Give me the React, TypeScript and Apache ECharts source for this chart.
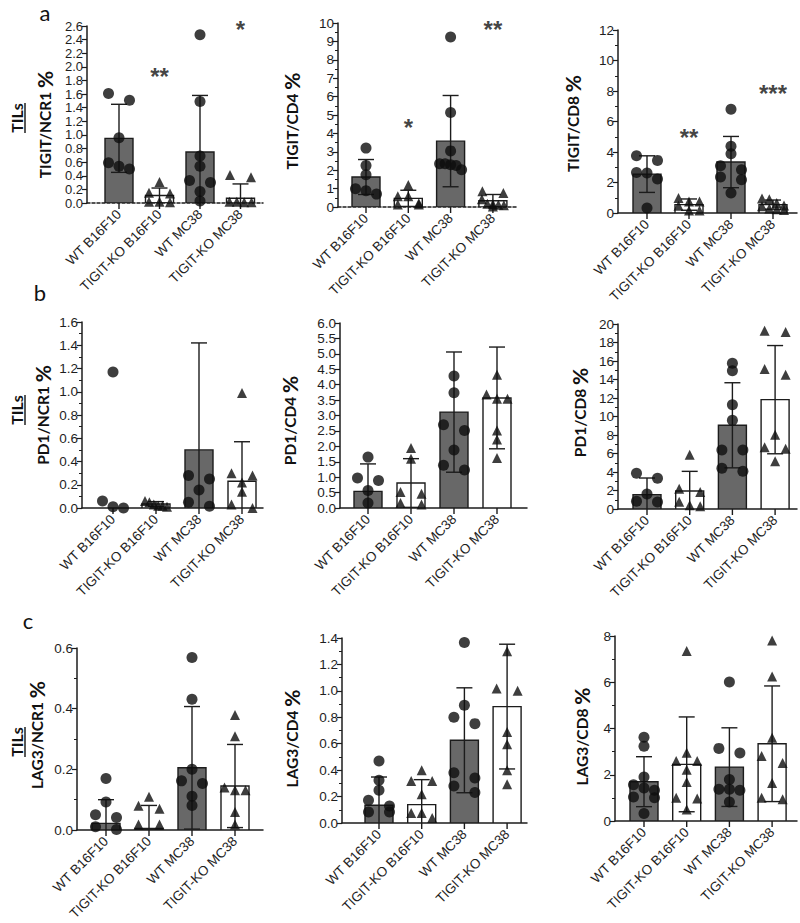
import React, { useEffect, useRef } from "react";
import * as echarts from "echarts";

const categories = ["WT B16F10", "TIGIT-KO B16F10", "WT MC38", "TIGIT-KO MC38"];

// ---- a: TIGIT ----
const tigitNcr1Mean = [0.95, 0.11, 0.75, 0.07];
const tigitNcr1Sd = [0.5, 0.11, 0.83, 0.21];
const tigitNcr1Points = [
  [1.61, 1.51, 0.96, 0.59, 0.54, 0.5],
  [0.31, 0.15, 0.14, 0.01, 0.02, 0.02],
  [2.47, 1.49, 0.69, 0.54, 0.33, 0.3, 0.17, 0.03],
  [0.41, 0.38, 0.02, 0.01, 0.02, 0.01],
];
const tigitNcr1Sig = [
  { cat: 1, y: 1.94, text: "**" },
  { cat: 3, y: 2.64, text: "*" },
];

const tigitCd4Mean = [1.63, 0.47, 3.58, 0.34];
const tigitCd4Sd = [0.95, 0.44, 2.48, 0.34];
const tigitCd4Points = [
  [3.2, 2.26, 1.75, 0.99, 0.88, 0.7],
  [1.2, 0.58, 0.58, 0.2, 0.13, 0.13],
  [9.24, 5.13, 3.05, 2.35, 2.35, 2.3, 2.25, 2.02],
  [0.85, 0.76, 0.42, 0.18, 0.15, 0.12, 0.1, 0.03],
];
const tigitCd4Sig = [
  { cat: 1, y: 4.64, text: "*" },
  { cat: 3, y: 9.96, text: "**" },
];

const tigitCd8Mean = [2.55, 0.55, 3.34, 0.55];
const tigitCd8Sd = [1.2, 0.37, 1.68, 0.3];
const tigitCd8Points = [
  [3.76, 3.45, 2.66, 2.62, 2.23, 0.33],
  [0.98, 0.76, 0.76, 0.48, 0.17, 0.17],
  [6.81, 4.37, 3.89, 3.1, 2.84, 2.36, 2.18, 1.31],
  [0.95, 0.9, 0.65, 0.5, 0.45, 0.3, 0.25, 0.2],
];
const tigitCd8Sig = [
  { cat: 1, y: 5.35, text: "**" },
  { cat: 3, y: 8.25, text: "***" },
];

// ---- b: PD1 ----
const pd1Ncr1Mean = [0, 0.035, 0.5, 0.23];
const pd1Ncr1Sd = [0, 0.02, 0.92, 0.34];
const pd1Ncr1Points = [
  [1.17, 0.06, 0.0, 0.01],
  [0.06, 0.05, 0.03, 0.02, 0.02, 0.01],
  [0.28, 0.25, 0.155, 0.05, 0.015],
  [0.99, 0.3, 0.28, 0.22, 0.14, 0.03, 0.0],
];

const pd1Cd4Mean = [0.54, 0.81, 3.11, 3.57];
const pd1Cd4Sd = [0.89, 0.79, 1.95, 1.65];
const pd1Cd4Points = [
  [1.65, 0.97, 0.89, 0.57, 0.16],
  [1.95, 1.6, 0.52, 0.46, 0.16, 0.11],
  [4.28, 3.74, 2.7, 2.51, 1.88, 1.39, 1.23],
  [4.32, 3.68, 3.54, 3.54, 2.51, 2.22, 1.62],
];

const pd1Cd8Mean = [1.55, 1.95, 9.05, 11.82];
const pd1Cd8Sd = [1.8, 2.12, 4.6, 5.85];
const pd1Cd8Points = [
  [3.86, 3.32, 1.62, 0.83, 0.76],
  [5.87, 2.2, 1.84, 0.79, 0.4, 0.29],
  [15.75, 14.95, 11.28, 9.59, 6.38, 6.38, 4.4, 4.07],
  [19.28, 19.14, 15.14, 14.52, 8.04, 6.67, 6.52, 5.15],
];

// ---- c: LAG3 ----
const lag3Ncr1Mean = [0.022, 0.005, 0.205, 0.145];
const lag3Ncr1Sd = [0.078, 0.076, 0.202, 0.137];
const lag3Ncr1Points = [
  [0.17, 0.092, 0.05, 0.041, 0.011, 0.002],
  [0.11, 0.08, 0.07, 0.018, 0.018],
  [0.569, 0.431, 0.2, 0.162, 0.153, 0.111, 0.081],
  [0.379, 0.309, 0.14, 0.131, 0.131, 0.059, 0.018],
];

const lag3Cd4Mean = [0.134, 0.139, 0.626, 0.881];
const lag3Cd4Sd = [0.214, 0.189, 0.397, 0.472];
const lag3Cd4Points = [
  [0.47, 0.323, 0.247, 0.172, 0.129, 0.083, 0.083],
  [0.4, 0.318, 0.318, 0.217, 0.076, 0.076, 0.038],
  [1.366, 0.891, 0.8, 0.752, 0.381, 0.341, 0.28, 0.23],
  [1.3, 1.018, 1.0, 0.689, 0.596, 0.4, 0.293],
];

const lag3Cd8Mean = [1.7, 2.45, 2.33, 3.34];
const lag3Cd8Sd = [1.08, 2.05, 1.7, 2.5];
const lag3Cd8Points = [
  [3.62, 3.23, 1.9, 1.57, 1.43, 1.33, 1.04, 1.01, 0.32],
  [7.35, 2.95, 2.59, 2.59, 2.22, 1.69, 1.01, 0.97, 0.5],
  [6.01, 3.14, 2.94, 1.79, 1.37, 1.37, 1.33, 0.82],
  [7.81, 6.25, 3.6, 2.81, 2.51, 1.64, 1.01, 0.94],
];

// y-axis tick settings per panel
const yMaxes = [2.6, 10, 12, 1.6, 6, 20, 0.6, 1.4, 8];
const yIntervals = [0.2, 1, 2, 0.2, 0.5, 2, 0.2, 0.2, 2];
const yDecimals = [1, 0, 0, 1, 1, 0, 1, 1, 0];
const yMinor = [false, true, true, true, false, true, true, true, true];
const yTitles = [
  "TIGIT/NCR1", "TIGIT/CD4", "TIGIT/CD8",
  "PD1/NCR1", "PD1/CD4", "PD1/CD8",
  "LAG3/NCR1", "LAG3/CD4", "LAG3/CD8",
];
const rowLetters = ["a", "b", "c"];

const panelData = [
  { mean: tigitNcr1Mean, sd: tigitNcr1Sd, points: tigitNcr1Points, sig: tigitNcr1Sig },
  { mean: tigitCd4Mean, sd: tigitCd4Sd, points: tigitCd4Points, sig: tigitCd4Sig },
  { mean: tigitCd8Mean, sd: tigitCd8Sd, points: tigitCd8Points, sig: tigitCd8Sig },
  { mean: pd1Ncr1Mean, sd: pd1Ncr1Sd, points: pd1Ncr1Points, sig: [] as any[] },
  { mean: pd1Cd4Mean, sd: pd1Cd4Sd, points: pd1Cd4Points, sig: [] as any[] },
  { mean: pd1Cd8Mean, sd: pd1Cd8Sd, points: pd1Cd8Points, sig: [] as any[] },
  { mean: lag3Ncr1Mean, sd: lag3Ncr1Sd, points: lag3Ncr1Points, sig: [] as any[] },
  { mean: lag3Cd4Mean, sd: lag3Cd4Sd, points: lag3Cd4Points, sig: [] as any[] },
  { mean: lag3Cd8Mean, sd: lag3Cd8Sd, points: lag3Cd8Points, sig: [] as any[] },
];

// ---- layout (pixels) ----
const layouts = [
  { left: 87, first: 119, step: 40.5, end: 263, top: 26, zero: 203, nameGap: 32, shift: 10, dashed: true, tickFont: 13 },
  { left: 338, first: 366, step: 42.3, end: 518, top: 23, zero: 207, nameGap: 36, shift: 6, dashed: true, tickFont: 13.5 },
  { left: 618, first: 647, step: 42, end: 797, top: 30, zero: 213, nameGap: 35, shift: 2, dashed: false, tickFont: 13.5 },
  { left: 82, first: 113, step: 43, end: 263, top: 322, zero: 508, nameGap: 29, shift: 0, dashed: false, tickFont: 13.5 },
  { left: 340, first: 368, step: 43, end: 527, top: 323, zero: 508, nameGap: 40, shift: 5, dashed: false, tickFont: 13.5 },
  { left: 618, first: 647, step: 42.7, end: 797, top: 324, zero: 509, nameGap: 28, shift: -4, dashed: false, tickFont: 13.5 },
  { left: 77, first: 106, step: 43, end: 263, top: 648, zero: 833, nameGap: 30, shift: -4, dashed: false, tickFont: 13.5 },
  { left: 342, first: 379, step: 42.7, end: 527, top: 638, zero: 823, nameGap: 40, shift: 8, dashed: false, tickFont: 13.5 },
  { left: 615, first: 644, step: 42.7, end: 797, top: 636, zero: 821, nameGap: 23, shift: 8, dashed: false, tickFont: 13.5 },
];
const letterPos = [
  { x: 45, y: 12 },
  { x: 40, y: 292 },
  { x: 28, y: 620 },
];
const tilsPos = [
  { x: 16, y: 118 },
  { x: 16, y: 410 },
  { x: 16, y: 742 },
];

const FONT = '"Liberation Sans", Arial, sans-serif';
const TITLE_FONT = 'Lato, "Liberation Sans", sans-serif';
const INK = "#1c1c1c";
const GRAY = "#686868";
const BAR_HALF = 14;
const CAP_HALF = 8;
const DOT = 11;
const TRI = 10;
const ROW_THRESH = 7;
const MAX_HALF = 11;

// GraphPad-like horizontal spreading of points with overlapping y positions
function spread(values: number[], pxPerUnit: number): number[] {
  const order = values.map((_, i) => i).sort((a, b) => values[b] - values[a]);
  const offs = new Array(values.length).fill(0);
  let i = 0;
  while (i < order.length) {
    const row = [order[i]];
    let j = i + 1;
    while (j < order.length && (values[row[0]] - values[order[j]]) * pxPerUnit < ROW_THRESH) {
      row.push(order[j]);
      j++;
    }
    const n = row.length;
    if (n === 2) {
      offs[row[0]] = -10.5;
      offs[row[1]] = 10.5;
    } else if (n > 2) {
      let step = 10.5;
      if (((n - 1) / 2) * step > MAX_HALF) step = (2 * MAX_HALF) / (n - 1);
      row.forEach((idx, k) => {
        offs[idx] = (k - (n - 1) / 2) * step;
      });
    }
    i = j;
  }
  return offs;
}

function buildOption() {
  const grid: any[] = [];
  const xAxis: any[] = [];
  const yAxis: any[] = [];
  const series: any[] = [];

  layouts.forEach((L, p) => {
    const d = panelData[p];
    const yMax = yMaxes[p];
    const pxPerUnit = (L.zero - L.top) / yMax;
    const lastCenter = L.first + 3 * L.step;
    grid.push({ left: L.left, top: L.top, width: L.end - L.left, height: L.zero - L.top, containLabel: false });
    xAxis.push({
      gridIndex: p,
      type: "value",
      min: -(L.first - L.left) / L.step,
      max: 3 + (L.end - lastCenter) / L.step,
      splitNumber: 4,
      axisLine: { show: true, onZero: true, lineStyle: { color: INK, width: 1.5, type: L.dashed ? [3, 2] : "solid" } },
      axisTick: { show: false },
      splitLine: { show: false },
      axisLabel: {
        rotate: 45,
        margin: 9,
        fontSize: 13.5,
        fontFamily: FONT,
        color: "#1e1e1e",
        showMinLabel: true,
        showMaxLabel: true,
        formatter: (v: number) => {
          const r = Math.round(v);
          return Math.abs(v - r) < 1e-6 && r >= 0 && r <= 3 ? categories[r] : "";
        },
      },
    });
    yAxis.push({
      gridIndex: p,
      type: "value",
      min: 0,
      max: yMax,
      interval: yIntervals[p],
      axisLine: { show: true, onZero: false, lineStyle: { color: INK, width: 1.5 } },
      axisTick: { show: true, length: 5, lineStyle: { color: INK, width: 1.2 } },
      minorTick: { show: yMinor[p], splitNumber: 2, length: 3, lineStyle: { color: INK, width: 1 } },
      splitLine: { show: false },
      minorSplitLine: { show: false },
      axisLabel: {
        margin: 4,
        fontSize: L.tickFont,
        fontFamily: FONT,
        color: "#1e1e1e",
        showMinLabel: true,
        showMaxLabel: true,
        hideOverlap: false,
        formatter: (v: number) => v.toFixed(yDecimals[p]),
      },
      name: `{t|${yTitles[p]}} {p|%}`,
      nameLocation: "middle",
      nameRotate: 90,
      nameGap: L.nameGap,
      nameTextStyle: {
        color: "#111",
        fontFamily: TITLE_FONT,
        fontWeight: "bold",
        fontSize: 15.5,
        padding: L.shift >= 0 ? [0, 2 * L.shift, 0, 0] : [0, 0, 0, -2 * L.shift],
        rich: {
          t: { fontSize: 15.5, fontWeight: "bold", fontFamily: TITLE_FONT, color: "#111" },
          p: { fontSize: 21, fontWeight: "bold", fontFamily: TITLE_FONT, color: "#111" },
        },
      },
    });

    // category ticks below the x axis
    series.push({
      type: "custom",
      xAxisIndex: p,
      yAxisIndex: p,
      clip: false,
      silent: true,
      z: 1,
      data: categories.map((_, i) => [i, 0]),
      renderItem: (_params: any, api: any) => {
        const pt = api.coord([api.value(0), 0]);
        return {
          type: "line",
          shape: { x1: pt[0], y1: pt[1], x2: pt[0], y2: pt[1] + 6 },
          style: { stroke: INK, lineWidth: 1.4 },
        };
      },
    });

    // bars + SD error bars
    series.push({
      type: "custom",
      xAxisIndex: p,
      yAxisIndex: p,
      clip: true,
      silent: true,
      z: 2,
      data: d.mean.map((m, i) => [i, m, d.sd[i]]),
      renderItem: (_params: any, api: any) => {
        const i = api.value(0) as number;
        const m = api.value(1) as number;
        const sd = api.value(2) as number;
        const base = api.coord([i, 0]);
        const top = api.coord([i, m]);
        const children: any[] = [];
        if (m > 0) {
          children.push({
            type: "rect",
            shape: { x: base[0] - BAR_HALF, y: top[1], width: BAR_HALF * 2, height: base[1] - top[1] },
            style: { fill: i % 2 === 0 ? GRAY : "#ffffff", stroke: INK, lineWidth: 1.4 },
          });
        }
        if (sd > 0) {
          const hi = api.coord([i, m + sd]);
          const lo = api.coord([i, m - sd]);
          children.push({ type: "line", shape: { x1: base[0], y1: hi[1], x2: base[0], y2: lo[1] }, style: { stroke: INK, lineWidth: 1.4 } });
          children.push({ type: "line", shape: { x1: base[0] - CAP_HALF, y1: hi[1], x2: base[0] + CAP_HALF, y2: hi[1] }, style: { stroke: INK, lineWidth: 1.4 } });
          children.push({ type: "line", shape: { x1: base[0] - CAP_HALF, y1: lo[1], x2: base[0] + CAP_HALF, y2: lo[1] }, style: { stroke: INK, lineWidth: 1.4 } });
        }
        return { type: "group", children };
      },
    });

    // individual points
    const pts: any[] = [];
    d.points.forEach((vals, i) => {
      const offs = spread(vals, pxPerUnit);
      vals.forEach((v, k) => {
        pts.push({
          value: [i, v],
          symbol: i % 2 === 0 ? "circle" : "triangle",
          symbolSize: i % 2 === 0 ? DOT : TRI,
          symbolOffset: [offs[k], 0],
        });
      });
    });
    series.push({
      type: "scatter",
      xAxisIndex: p,
      yAxisIndex: p,
      clip: false,
      silent: true,
      z: 3,
      itemStyle: { color: "#0e0e0e" },
      data: pts,
    });

    // significance stars
    if (d.sig.length) {
      series.push({
        type: "scatter",
        xAxisIndex: p,
        yAxisIndex: p,
        clip: false,
        silent: true,
        z: 4,
        symbolSize: 1,
        itemStyle: { color: "rgba(0,0,0,0)" },
        label: {
          show: true,
          position: "inside",
          offset: [0, 6],
          fontSize: 24,
          fontWeight: "bold",
          fontFamily: FONT,
          color: "#111",
          formatter: (params: any) => d.sig[params.dataIndex].text,
        },
        data: d.sig.map((s: any) => [s.cat, s.y]),
      });
    }
  });

  const graphic: any[] = [];
  rowLetters.forEach((t, r) => {
    graphic.push({
      type: "text",
      x: letterPos[r].x,
      y: letterPos[r].y,
      silent: true,
      style: { text: t, font: `22px ${TITLE_FONT}`, fill: "#111", align: "center", verticalAlign: "middle" },
    });
    graphic.push({
      type: "group",
      x: tilsPos[r].x,
      y: tilsPos[r].y,
      rotation: Math.PI / 2,
      silent: true,
      children: [
        {
          type: "text",
          x: 0,
          y: 0,
          style: { text: "TILs", font: `bold 16px ${TITLE_FONT}`, fill: "#111", align: "center", verticalAlign: "middle" },
        },
        {
          type: "line",
          shape: { x1: -15, y1: 9, x2: 15, y2: 9 },
          style: { stroke: "#111", lineWidth: 1.4 },
        },
      ],
    });
  });

  return {
    animation: false,
    backgroundColor: "#ffffff",
    grid,
    xAxis,
    yAxis,
    series,
    graphic,
  };
}

export default function App() {
  const ref = useRef<HTMLDivElement>(null);
  useEffect(() => {
    if (!ref.current) return;
    const chart = echarts.init(ref.current, undefined, { renderer: "svg" });
    chart.setOption(buildOption() as any);
    return () => chart.dispose();
  }, []);
  return (
    <div
      ref={ref}
      style={{ position: "absolute", left: 0, top: 0, width: 800, height: 923, background: "#fff" }}
    />
  );
}
